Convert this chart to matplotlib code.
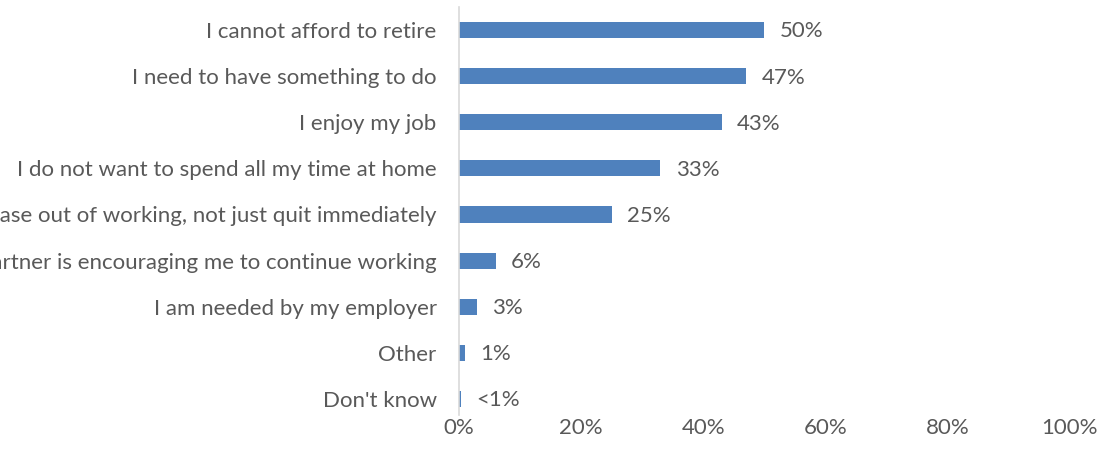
import matplotlib.pyplot as plt

# reasons for continuing to work, top to bottom
reasons = [
    "I cannot afford to retire",
    "I need to have something to do",
    "I enjoy my job",
    "I do not want to spend all my time at home",
    "I would like to phase out of working, not just quit immediately",
    "My partner is encouraging me to continue working",
    "I am needed by my employer",
    "Other",
    "Don't know",
]
shares = [50, 47, 43, 33, 25, 6, 3, 1, 0.3]
share_labels = ["50%", "47%", "43%", "33%", "25%", "6%", "3%", "1%", "<1%"]
x_ticks = [0, 20, 40, 60, 80, 100]
x_tick_labels = ["0%", "20%", "40%", "60%", "80%", "100%"]

text_grey = "#595959"
plt.rcParams['font.family'] = ['Lato', 'DejaVu Sans']
fs = 16

fig = plt.figure(figsize=(11.03, 4.63), dpi=100)
ax = fig.add_axes([0.416, 0.0886, 0.554, 0.8964])

pos = list(range(len(reasons)))
ax.barh(pos, shares, height=0.35, color="#4F81BD")
ax.set_ylim(len(reasons) - 0.5, -0.5)
ax.set_xlim(0, 100)

for y, v, lab in zip(pos, shares, share_labels):
    ax.annotate(lab, (v, y), xytext=(11, -1), textcoords="offset points",
                va="center", ha="left", fontsize=fs, color=text_grey)

ax.set_yticks(pos)
ax.set_yticklabels(reasons, fontsize=fs, color=text_grey)
ax.set_xticks(x_ticks)
ax.set_xticklabels(x_tick_labels, fontsize=fs, color=text_grey)
ax.tick_params(axis="both", length=0)
ax.tick_params(axis="y", pad=16)
ax.tick_params(axis="x", pad=-3)

for side in ["top", "right", "bottom"]:
    ax.spines[side].set_visible(False)
ax.spines["left"].set_color("#D9D9D9")
ax.spines["left"].set_linewidth(1.2)
ax.spines["left"].set_bounds(len(reasons) - 0.65, -0.5)

fig.savefig("out.png", dpi=100)
